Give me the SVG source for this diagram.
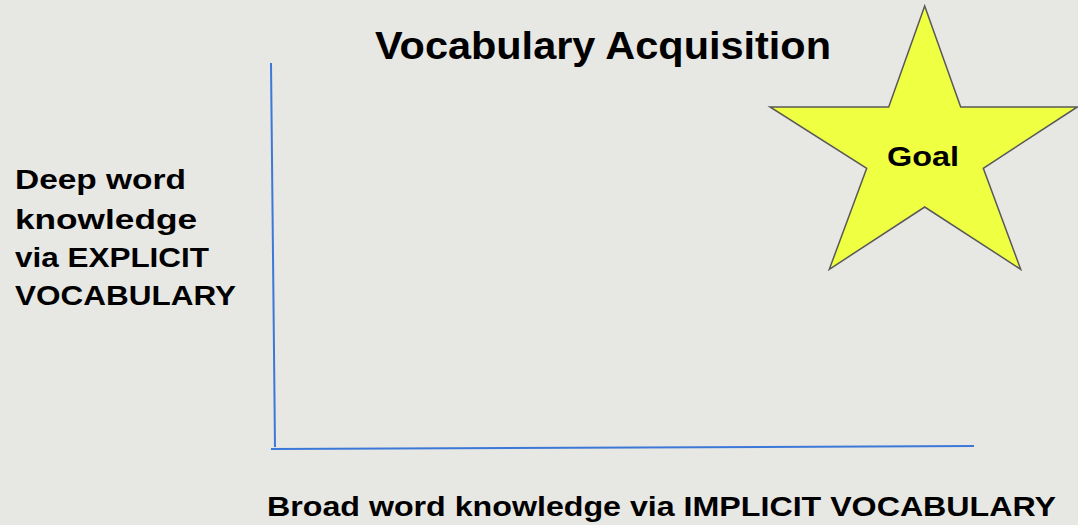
<svg xmlns="http://www.w3.org/2000/svg" width="1078" height="525" viewBox="0 0 1078 525">
<style>
.t{font-family:"Liberation Sans",Arial,sans-serif;font-weight:bold;fill:#000}
.axis{stroke:#3c78d8;stroke-width:2;fill:none}
</style>
<rect width="1078" height="525" fill="#e7e7e3"/>
<text class="t" x="375" y="59" font-size="38" textLength="456" lengthAdjust="spacingAndGlyphs">Vocabulary Acquisition</text>
<g id="y-label">
<text class="t" x="15" y="189" font-size="27" textLength="171" lengthAdjust="spacingAndGlyphs">Deep word</text>
<text class="t" x="15" y="229" font-size="27" textLength="182" lengthAdjust="spacingAndGlyphs">knowledge</text>
<text class="t" x="15" y="267" font-size="27" textLength="194" lengthAdjust="spacingAndGlyphs">via EXPLICIT</text>
<text class="t" x="15" y="305" font-size="27" textLength="221" lengthAdjust="spacingAndGlyphs">VOCABULARY</text>
</g>
<g id="x-label">
<text class="t" x="267" y="516" font-size="28" textLength="789" lengthAdjust="spacingAndGlyphs">Broad word knowledge via IMPLICIT VOCABULARY</text>
</g>
<g id="connectors">
<line class="axis" x1="271" y1="63" x2="275" y2="447"/>
<line class="axis" x1="271" y1="449" x2="974" y2="446"/>
</g>
<g id="goal">
<polygon points="924.7,6 960.7,107 1077.3,107 983.3,168.3 1020.7,269.3 924.7,207 829.3,269.3 866.7,168.3 770,107 888.7,107" fill="#efff41" stroke="#595959" stroke-width="1.5" stroke-linejoin="miter"/>
<text class="t" x="923" y="166" font-size="28" text-anchor="middle" textLength="72" lengthAdjust="spacingAndGlyphs">Goal</text>
</g>
</svg>
